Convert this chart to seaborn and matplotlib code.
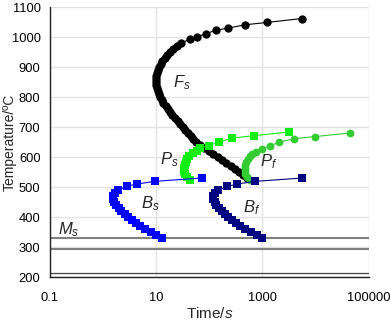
import matplotlib
matplotlib.use("Agg")
import matplotlib.pyplot as plt
import matplotlib.ticker as mticker
import seaborn as sns
import pandas as pd

# ---------------- data (time in s, temperature in degC) ----------------
fs_temp = [531, 540, 550, 560, 570, 580, 590, 600, 610, 620, 630, 640, 650, 660, 670,
           680, 690, 700, 710, 720, 730, 740, 750, 760, 770, 780, 790, 800, 810, 820,
           830, 840, 850, 860, 870, 880, 890, 900, 910, 920, 930, 940, 950, 960, 970,
           980, 993, 1001, 1011, 1023, 1030, 1041, 1049, 1062]
fs_time = [513, 437, 363, 302, 251, 209, 174, 145, 120, 100, 81, 66, 56, 50, 45,
           40, 35.5, 32.4, 28.8, 25.7, 22.9, 20.4, 18.2, 16.6, 15.1, 13.8, 12.9, 12.0, 11.5, 11.0,
           10.5, 10.2, 10.0, 10.0, 10.2, 10.5, 11.0, 11.5, 12.3, 13.2, 14.5, 15.8, 18.2, 20.9, 24.5,
           29.5, 43, 59, 86, 133, 226, 466, 1220, 5500]

ps_temp = [525, 535, 545, 555, 565, 575, 585, 595, 605, 614, 622, 631, 639, 651, 664, 672, 684]
ps_time = [43, 38, 35.5, 33.9, 34.3, 35.1, 36.3, 38.5, 42.2, 50, 58, 67, 98, 151, 269, 695, 3120]

pf_temp = [525, 535, 545, 555, 565, 575, 585, 595, 603, 610, 619, 628, 638, 650, 662, 669, 681]
pf_time = [578, 513, 479, 462, 462, 473, 495, 531, 580, 631, 771, 977, 1371, 2046, 3917, 9572, 44770]

bs_temp = [330, 340, 350, 360, 370, 380, 390, 400, 410, 420, 430, 440, 450, 460, 470,
           480, 490, 503, 511, 520, 531]
bs_time = [12.7, 10.2, 7.9, 6.3, 5.0, 4.2, 3.5, 2.95, 2.57, 2.24, 2.0, 1.78, 1.66, 1.58, 1.58,
           1.70, 1.95, 2.8, 4.4, 9.5, 72]

bf_temp = [330, 340, 350, 360, 370, 380, 390, 400, 410, 420, 430, 440, 450, 460, 470,
           480, 490, 503, 511, 520, 531]
bf_time = [966, 776, 603, 479, 380, 316, 263, 224, 195, 170, 151, 135, 126, 120, 120,
           129, 148, 220, 333, 738, 5530]

ms_temp = 330
ms2_temp = 295
mf_temp = 214

labels = ["$F_s$", "$P_s$", "$P_f$", "$B_s$", "$B_f$", "$M_s$"]
label_time = [31, 17.5, 1312, 7.7, 631, 0.232]
label_temp = [848, 592, 585, 446, 432, 359]

# ---------------- plot ----------------
sns.set_style("white")
plt.rcParams['font.family'] = ['Liberation Sans', 'DejaVu Sans']
plt.rcParams['mathtext.fontset'] = 'custom'
plt.rcParams['mathtext.it'] = 'Liberation Sans:italic'
plt.rcParams['mathtext.rm'] = 'Liberation Sans'

fig = plt.figure(figsize=(3.9, 3.23), dpi=100)
ax = fig.add_axes([0.127, 0.141, 0.819, 0.837])

series = [
    (fs_time, fs_temp, 'black', 'o', 6.0),
    (ps_time, ps_temp, '#11ee11', 's', 5.2),
    (pf_time, pf_temp, '#33cc33', 'o', 5.6),
    (bs_time, bs_temp, '#0000ff', 's', 5.2),
    (bf_time, bf_temp, '#000080', 's', 5.2),
]
for t, T, c, m, s in series:
    df = pd.DataFrame({"time": t, "temp": T})
    sns.lineplot(data=df, x="time", y="temp", sort=False, estimator=None, ax=ax,
                 color=c, linewidth=0.8, marker=m, markersize=s,
                 markeredgewidth=0, markerfacecolor=c, zorder=3)

ax.axhline(ms_temp, color='#808080', lw=1.5, zorder=2)
ax.axhline(ms2_temp, color='#808080', lw=1.5, zorder=2)
ax.axhline(mf_temp, color='#444444', lw=0.9, zorder=2)

for lab, x, y in zip(labels, label_time, label_temp):
    ax.text(x, y, lab, fontsize=12, ha='center', va='center', zorder=4)

ax.set_xscale('log')
ax.set_xlim(0.1, 100000)
ax.set_ylim(200, 1100)
ax.xaxis.set_major_locator(mticker.FixedLocator([0.1, 10, 1000, 100000]))
ax.xaxis.set_major_formatter(mticker.FixedFormatter(['0.1', '10', '1000', '100000']))
ax.xaxis.set_minor_locator(mticker.LogLocator(base=10, subs=range(1, 10), numticks=20))
ax.xaxis.set_minor_formatter(mticker.NullFormatter())
ax.yaxis.set_major_locator(mticker.MultipleLocator(100))
ax.yaxis.set_minor_locator(mticker.MultipleLocator(50))

ax.grid(True, which='major', color='#e3e3e3', lw=1.0, zorder=0)
ax.set_axisbelow(True)
for sp in ['top', 'right']:
    ax.spines[sp].set_visible(False)
for sp in ['left', 'bottom']:
    ax.spines[sp].set_color('#222222')
    ax.spines[sp].set_linewidth(1.0)

ax.tick_params(axis='y', which='major', direction='inout', length=5, width=0.8,
               labelsize=9.3, colors='#222222', labelcolor='black', pad=4)
ax.tick_params(axis='y', which='minor', direction='inout', length=3.5, width=0.8,
               colors='#222222')
ax.tick_params(axis='x', which='major', direction='out', length=5, width=0.8,
               labelsize=9.3, colors='#222222', labelcolor='black', pad=5.3)
ax.tick_params(axis='x', which='minor', direction='out', length=3, width=0.8,
               colors='#222222')

ax.set_xlabel("Time/$s$", fontsize=11)
ax.xaxis.set_label_coords(0.5, -0.105)
ax.set_ylabel("Temperature/ºC", fontsize=10)
ax.yaxis.set_label_coords(-0.103, 0.50)

fig.savefig("out.png", dpi=100)
